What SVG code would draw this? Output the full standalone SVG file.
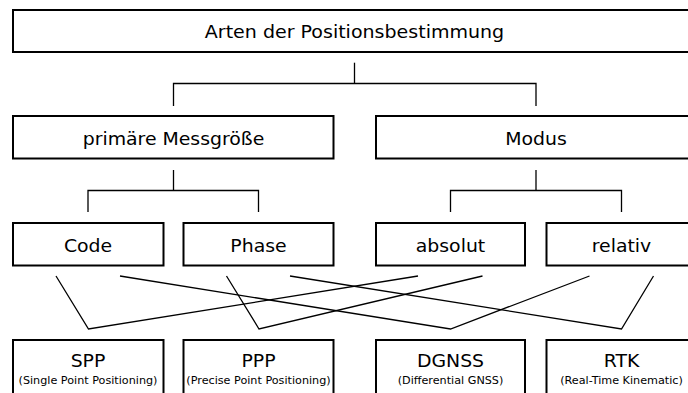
<svg xmlns="http://www.w3.org/2000/svg" width="688" height="393" viewBox="0 0 688 393">
  <style>
    .box { fill: #ffffff; stroke: #000000; stroke-width: 2; }
    .wire { fill: none; stroke: #000000; stroke-width: 1.3; stroke-linejoin: miter; }
    .lbl { font-family: "DejaVu Sans", Verdana, sans-serif; font-size: 17px; fill: #000000; text-anchor: middle; }
    .sub { font-family: "DejaVu Sans", Verdana, sans-serif; font-size: 10px; fill: #000000; text-anchor: middle; }
  </style>
  <rect width="688" height="393" fill="#ffffff"/>

  <g id="connectors">
    <!-- root to second level -->
    <polyline class="wire" points="354.5,62.7 354.5,83.5"/>
    <polyline class="wire" points="173.5,106 173.5,83.5 536,83.5 536,106"/>
    <!-- primary measurand to code / phase -->
    <polyline class="wire" points="173.5,170 173.5,190.5"/>
    <polyline class="wire" points="88,212 88,190.5 258.5,190.5 258.5,212"/>
    <!-- mode to absolute / relative -->
    <polyline class="wire" points="536,170 536,190.5"/>
    <polyline class="wire" points="450.5,212 450.5,190.5 621.5,190.5 621.5,212"/>
    <!-- combinations -->
    <polyline class="wire" points="56,276 88.5,329 418,276"/>
    <polyline class="wire" points="226.5,276 259,329 482.5,276"/>
    <polyline class="wire" points="120,276 450.5,329 589.5,276"/>
    <polyline class="wire" points="290,276 621.5,329 653.5,276"/>
  </g>

  <g id="root">
    <rect class="box" x="13" y="10" width="690" height="42"/>
    <text class="lbl" transform="translate(354.5,38.3) scale(1.12,1)">Arten der Positionsbestimmung</text>
  </g>

  <g id="messgroesse">
    <rect class="box" x="13" y="116" width="320.5" height="42.5"/>
    <text class="lbl" transform="translate(173.5,144.6) scale(1.11,1)">primäre Messgröße</text>
  </g>
  <g id="modus">
    <rect class="box" x="376" y="116" width="330" height="42.5"/>
    <text class="lbl" transform="translate(536,144.6) scale(1.11,1)">Modus</text>
  </g>

  <g id="code">
    <rect class="box" x="13" y="223" width="150.5" height="42.5"/>
    <text class="lbl" transform="translate(88,251.7) scale(1.11,1)">Code</text>
  </g>
  <g id="phase">
    <rect class="box" x="183.5" y="223" width="150" height="42.5"/>
    <text class="lbl" transform="translate(258.5,251.7) scale(1.11,1)">Phase</text>
  </g>
  <g id="absolut">
    <rect class="box" x="376" y="223" width="149" height="42.5"/>
    <text class="lbl" transform="translate(450.5,251.7) scale(1.11,1)">absolut</text>
  </g>
  <g id="relativ">
    <rect class="box" x="546.5" y="223" width="150" height="42.5"/>
    <text class="lbl" transform="translate(621.5,251.7) scale(1.11,1)">relativ</text>
  </g>

  <g id="spp">
    <rect class="box" x="13" y="340" width="150.5" height="60"/>
    <text class="lbl" transform="translate(88,366.5) scale(1.11,1)">SPP</text>
    <text class="sub" transform="translate(88,383.5) scale(1.12,1)">(Single Point Positioning)</text>
  </g>
  <g id="ppp">
    <rect class="box" x="183.5" y="340" width="150" height="60"/>
    <text class="lbl" transform="translate(258.5,366.5) scale(1.11,1)">PPP</text>
    <text class="sub" transform="translate(258.5,383.5) scale(1.12,1)">(Precise Point Positioning)</text>
  </g>
  <g id="dgnss">
    <rect class="box" x="376" y="340" width="149" height="60"/>
    <text class="lbl" transform="translate(450.5,366.5) scale(1.11,1)">DGNSS</text>
    <text class="sub" transform="translate(450.5,383.5) scale(1.12,1)">(Differential GNSS)</text>
  </g>
  <g id="rtk">
    <rect class="box" x="546.5" y="340" width="150" height="60"/>
    <text class="lbl" transform="translate(621.5,366.5) scale(1.11,1)">RTK</text>
    <text class="sub" transform="translate(621.5,383.5) scale(1.12,1)">(Real-Time Kinematic)</text>
  </g>
</svg>
